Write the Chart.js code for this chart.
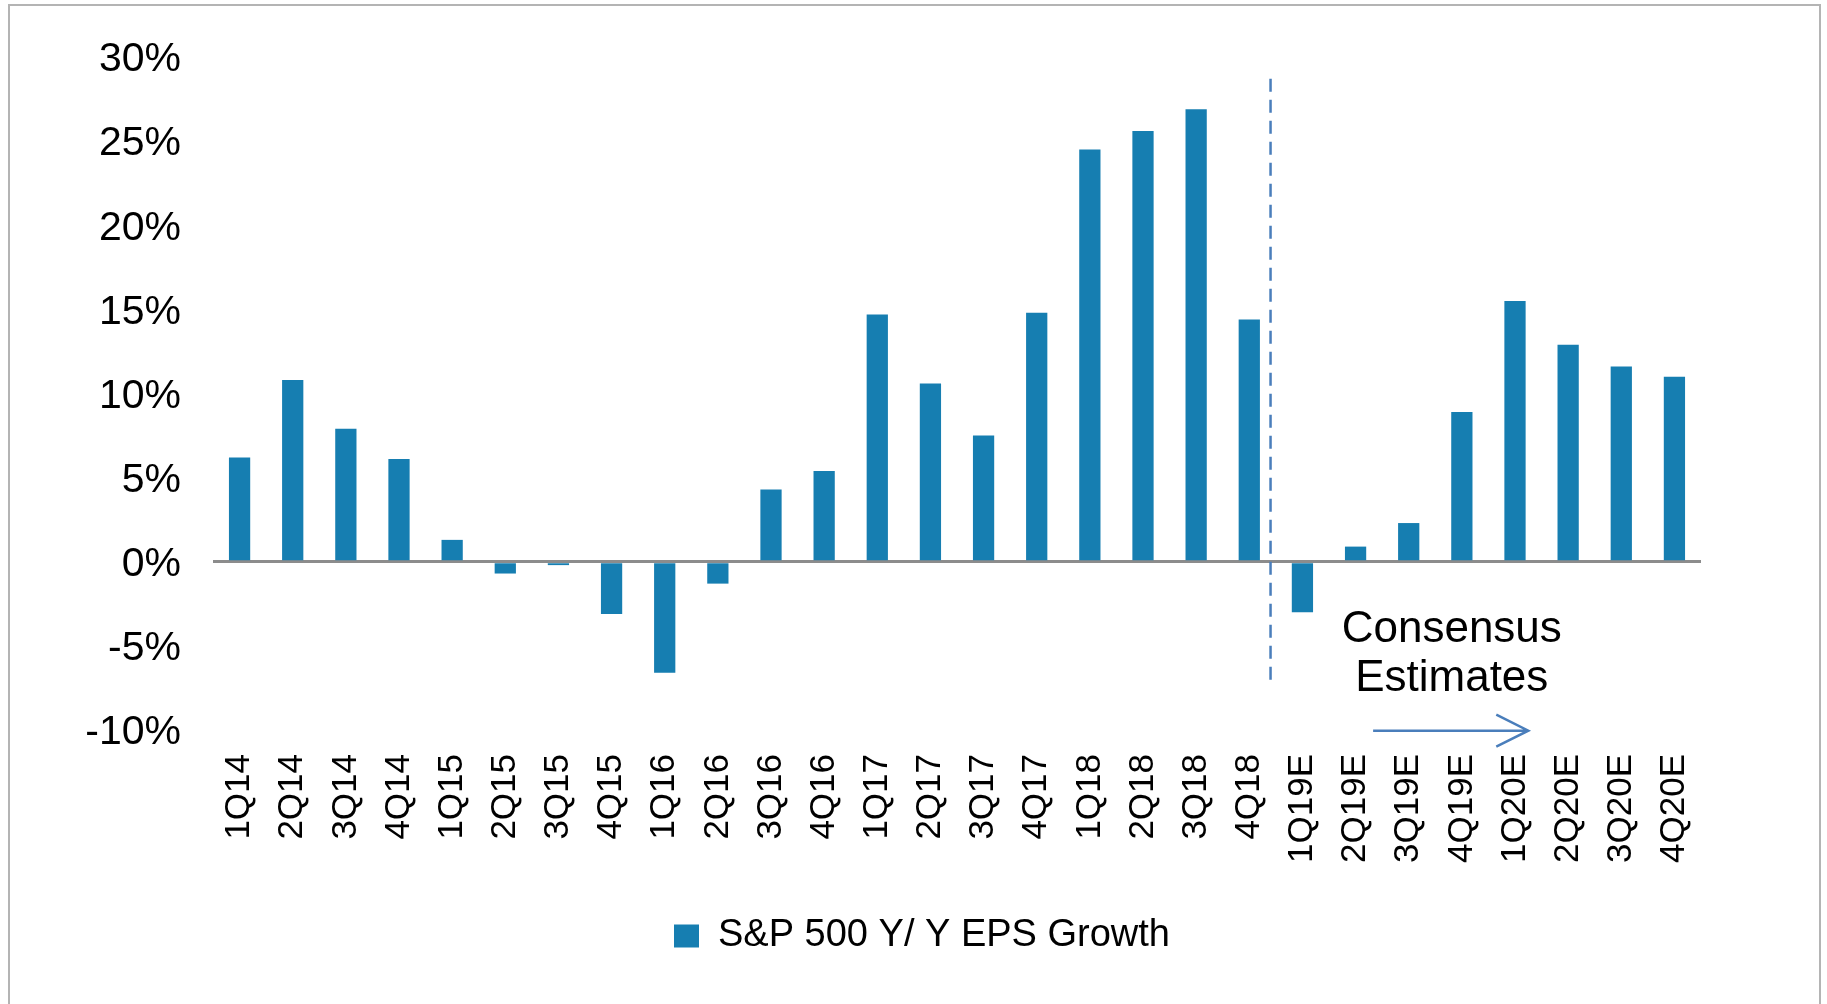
<!DOCTYPE html>
<html>
<head>
<meta charset="utf-8">
<script src="https://cdn.jsdelivr.net/npm/chart.js@4.4.1/dist/chart.umd.min.js"></script>
<style>
  html, body { margin: 0; padding: 0; background: #fff; }
  #wrap { position: relative; width: 1827px; height: 1004px; }
</style>
</head>
<body>
<div id="wrap"><canvas id="EpsGrowth"></canvas></div>
<script>

// quarters on the x axis
const quarters = ['1Q14','2Q14','3Q14','4Q14','1Q15','2Q15','3Q15','4Q15','1Q16','2Q16',
                  '3Q16','4Q16','1Q17','2Q17','3Q17','4Q17','1Q18','2Q18','3Q18','4Q18',
                  '1Q19E','2Q19E','3Q19E','4Q19E','1Q20E','2Q20E','3Q20E','4Q20E'];

// S&P 500 Y/Y EPS growth, in %
const epsGrowth = [6.2, 10.8, 7.9, 6.1, 1.3, -0.7, -0.2, -3.1, -6.6, -1.3,
                   4.3, 5.4, 14.7, 10.6, 7.5, 14.8, 24.5, 25.6, 26.9, 14.4,
                   -3.0, 0.9, 2.3, 8.9, 15.5, 12.9, 11.6, 11.0];

const seriesName = 'S&P 500 Y/ Y EPS Growth';

// y axis ticks
const yMin = -10;
const yMax = 30;
const yStep = 5;

// estimates annotation (x in category index, y in %)
const dividerAt = 19.4;
const dividerTop = 28.7;
const dividerBottom = -7.4;
const noteLines = ['Consensus', 'Estimates'];
const noteX = 22.81;
const noteY = [-4.03, -6.97];
const arrowFrom = 21.33;
const arrowTo = 24.25;
const arrowY = -10.04;

const barColor = '#167eb1';
const noteColor = '#4a7ebb';
const fontFamily = '"Liberation Sans", Arial, sans-serif';

const estimatesMarker = {
    id: 'estimatesMarker',
    beforeDraw: (chart) => {
        const ctx = chart.ctx;
        ctx.save();
        ctx.strokeStyle = '#b4b4b4';
        ctx.lineWidth = 2;
        ctx.strokeRect(9, 5, 1811, 1020);
        ctx.restore();
    },
    afterDatasetsDraw: (chart) => {
        const ctx = chart.ctx;
        const x = chart.scales.x;
        const y = chart.scales.y;

        // dashed divider
        ctx.save();
        ctx.strokeStyle = noteColor;
        ctx.lineWidth = 2.5;
        ctx.setLineDash([13, 8]);
        const dx = x.getPixelForValue(dividerAt);
        ctx.beginPath();
        ctx.moveTo(dx, y.getPixelForValue(dividerTop));
        ctx.lineTo(dx, y.getPixelForValue(dividerBottom));
        ctx.stroke();
        ctx.restore();

        // text
        ctx.save();
        ctx.fillStyle = '#000';
        ctx.font = '44px ' + fontFamily;
        ctx.textAlign = 'center';
        ctx.textBaseline = 'middle';
        for (let i in noteLines) {
            ctx.fillText(noteLines[i], x.getPixelForValue(noteX), y.getPixelForValue(noteY[i]));
        }
        ctx.restore();

        // arrow
        const ax1 = x.getPixelForValue(arrowFrom);
        const ax2 = x.getPixelForValue(arrowTo);
        const ay = y.getPixelForValue(arrowY);
        ctx.save();
        ctx.strokeStyle = noteColor;
        ctx.lineWidth = 2.5;
        ctx.beginPath();
        ctx.moveTo(ax1, ay);
        ctx.lineTo(ax2, ay);
        ctx.moveTo(ax2 - 32, ay - 16);
        ctx.lineTo(ax2, ay);
        ctx.lineTo(ax2 - 32, ay + 16);
        ctx.stroke();
        ctx.restore();
    }
};

const dataEpsGrowth = () => {
    return {
        labels: quarters,
        datasets: [{
            label: seriesName,
            data: epsGrowth,
            backgroundColor: barColor,
            borderWidth: 0,
            barPercentage: 0.4,
            categoryPercentage: 1.0
        }]
    }
};

const configEpsGrowth = () => {
    return {
        type: 'bar',
        data: dataEpsGrowth(),
        plugins: [estimatesMarker],
        options: {
            maintainAspectRatio: false,
            responsive: true,
            animation: false,
            layout: {
                padding: { top: 57, right: 0, bottom: 39, left: 17 }
            },
            plugins: {
                tooltip: { enabled: false },
                legend: {
                    position: 'bottom',
                    labels: {
                        boxWidth: 25,
                        boxHeight: 23,
                        padding: 10,
                        color: '#000',
                        font: { family: fontFamily, size: 38 }
                    }
                }
            },
            scales: {
                x: {
                    grid: { display: false },
                    border: { display: false },
                    afterFit: (scale) => { scale.height = 177; },
                    ticks: {
                        autoSkip: false,
                        minRotation: 90,
                        maxRotation: 90,
                        padding: 16,
                        color: '#000',
                        font: { family: fontFamily, size: 35 }
                    }
                },
                y: {
                    min: yMin,
                    max: yMax,
                    border: { display: false },
                    afterFit: (scale) => { scale.width = 196; },
                    grid: {
                        drawTicks: false,
                        lineWidth: 3,
                        color: (ctx) => ctx.tick && ctx.tick.value === 0 ? '#8c8c8c' : 'rgba(0,0,0,0)'
                    },
                    ticks: {
                        stepSize: yStep,
                        padding: 32,
                        labelOffset: 3,
                        color: '#000',
                        font: { family: fontFamily, size: 41 },
                        callback: function(value, index, ticks) {
                            return value + '%';
                        }
                    }
                },
                // empty right margin, keeps the legend centred like the original
                spacer: {
                    type: 'linear',
                    position: 'right',
                    grid: { display: false },
                    border: { display: false },
                    ticks: { display: false },
                    afterFit: (scale) => { scale.width = 126; }
                }
            }
        }
    }
};

new Chart(
    document.getElementById('EpsGrowth'),
    configEpsGrowth()
);

</script>
</body>
</html>
